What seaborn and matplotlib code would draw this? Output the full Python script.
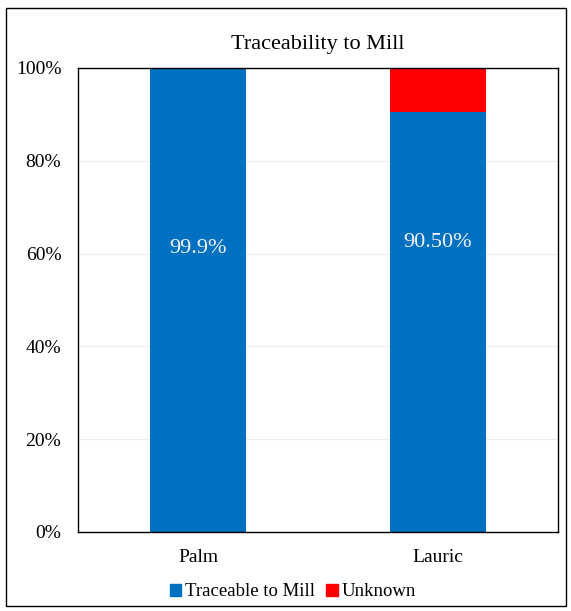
import pandas as pd
import numpy as np
import matplotlib
matplotlib.use("Agg")
import matplotlib.pyplot as plt
import seaborn as sns
from matplotlib.patches import Patch

# Data
categories = ["Palm", "Lauric"]
traceable = [99.9, 90.5]
unknown = [0.1, 9.5]
labels = ["99.9%", "90.50%"]

df = pd.DataFrame({"Category": categories, "Traceable": traceable, "Unknown": unknown})
df["Total"] = df["Traceable"] + df["Unknown"]

sns.set_style("white")
plt.rcParams["font.family"] = ["Liberation Serif", "DejaVu Serif"]
plt.rcParams["text.color"] = "black"
plt.rcParams["xtick.color"] = "black"
plt.rcParams["ytick.color"] = "black"

fig = plt.figure(figsize=(5.71, 6.11), dpi=100)
ax = fig.add_axes([78/571, 1 - 532/611, 480/571, 464/611])

blue = "#0070C0"
red = "#FF0000"

sns.barplot(data=df, x="Category", y="Total", color=red, width=0.4, ax=ax, saturation=1, linewidth=0)
sns.barplot(data=df, x="Category", y="Traceable", color=blue, width=0.4, ax=ax, saturation=1, linewidth=0)

ax.set_xlim(-0.5, 1.5)
ax.set_ylim(0, 100)
ax.set_yticks(np.arange(0, 101, 20))
ax.set_yticklabels([f"{v}%" for v in range(0, 101, 20)], fontsize=14)
ax.tick_params(axis="x", labelsize=14, pad=12, length=0)
ax.tick_params(axis="y", length=0, pad=12)
ax.set_xlabel("")
ax.set_ylabel("")
ax.yaxis.grid(True, color="#eeeeee", linewidth=0.8)
ax.set_axisbelow(True)
for s in ax.spines.values():
    s.set_color("black")
    s.set_linewidth(1.0)

# Value labels
label_pos = [61.0, 62.3]
for i, (t, y) in enumerate(zip(labels, label_pos)):
    ax.text(i, y, t, ha="center", va="center", color="#f2f2f2", fontsize=16)

fig.text(318/571, 1 - 44/611, "Traceability to Mill", ha="center", va="center", fontsize=16)

handles = [Patch(color=blue, label="Traceable to Mill"), Patch(color=red, label="Unknown")]
fig.legend(handles=handles, loc="center", bbox_to_anchor=(293/571, 1 - 592/611), ncol=2,
           frameon=False, fontsize=13.5, handlelength=0.6, handleheight=0.6,
           handletextpad=0.2, columnspacing=0.6)

# outer border
fig.patches.append(plt.Rectangle((6/571, 1 - 606/611), 560/571, 598/611, transform=fig.transFigure,
                                 fill=False, edgecolor="black", linewidth=1.0))

fig.savefig("out.png", dpi=100)
